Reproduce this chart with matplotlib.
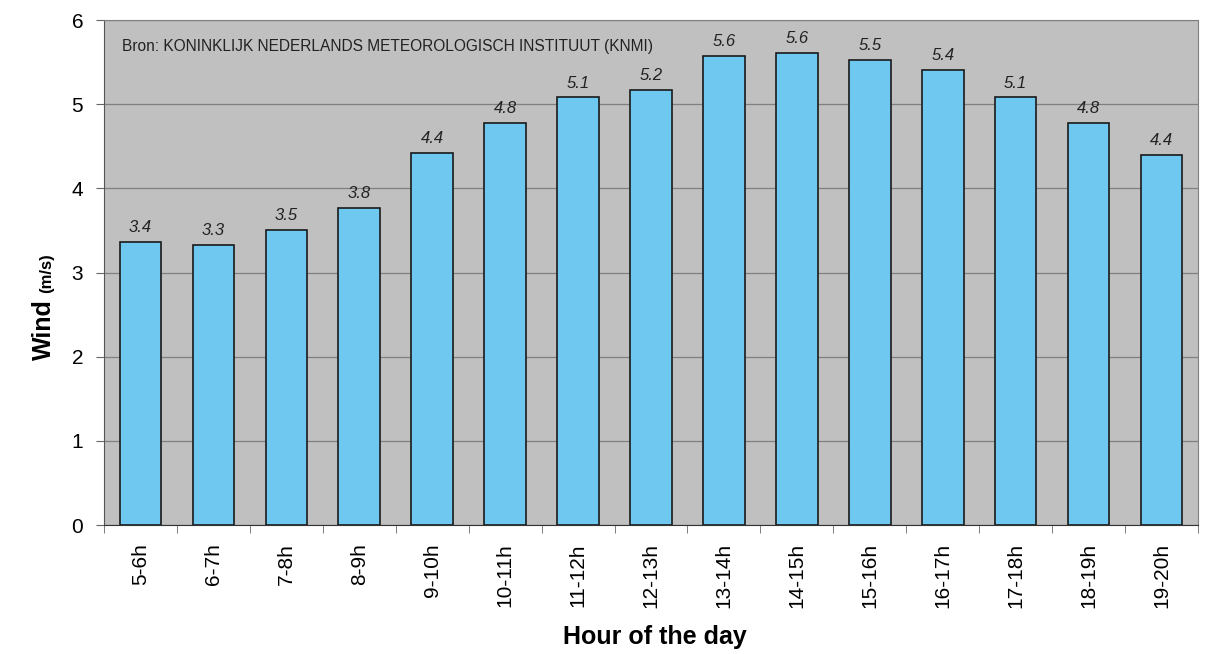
import numpy as np
import matplotlib
matplotlib.use('Agg')
import matplotlib.pyplot as plt
from matplotlib.ticker import FixedLocator

# data
hours = ['5-6h', '6-7h', '7-8h', '8-9h', '9-10h', '10-11h', '11-12h', '12-13h',
         '13-14h', '14-15h', '15-16h', '16-17h', '17-18h', '18-19h', '19-20h']
wind = [3.36, 3.33, 3.51, 3.77, 4.42, 4.78, 5.08, 5.17,
        5.57, 5.61, 5.52, 5.41, 5.08, 4.78, 4.40]
yticks = [0, 1, 2, 3, 4, 5, 6]
source = 'Bron: KONINKLIJK NEDERLANDS METEOROLOGISCH INSTITUUT (KNMI)'

plt.rcParams['font.family'] = ['Liberation Sans', 'DejaVu Sans']


def main():
	fig = plt.figure(figsize=(12.08, 6.54), dpi=100)
	ax = fig.add_axes([0.0861, 0.1972, 0.9056, 0.7722])
	ax.set_facecolor('#c0c0c0')

	x = np.arange(len(hours))
	bars = ax.bar(x, wind, width=0.57, color='#6fc8ef', edgecolor='#1a1a1a',
	              linewidth=1.2, zorder=3)

	for rect, v in zip(bars, wind):
		ax.annotate(f'{v:.1f}', (rect.get_x() + rect.get_width() / 2, v),
		            xytext=(0, 5), textcoords='offset points', ha='center',
		            va='bottom', fontsize=12, style='italic', color='#222222')

	ax.set_xlim(-0.5, len(hours) - 0.5)
	ax.set_ylim(0, 6)
	ax.set_yticks(yticks)
	ax.yaxis.grid(True, color='#808080', linewidth=0.9, zorder=1)
	ax.set_axisbelow(True)

	ax.set_xticks(x)
	ax.set_xticklabels(hours, rotation=90, fontsize=15)
	ax.xaxis.set_minor_locator(FixedLocator(np.arange(-0.5, len(hours), 1.0)))
	ax.tick_params(axis='x', which='major', length=0, pad=13)
	ax.tick_params(axis='x', which='minor', length=6, color='#666666')
	ax.tick_params(axis='y', length=6, color='#666666', labelsize=15, pad=9)

	for side in ['top', 'right']:
		ax.spines[side].set_color('#808080')
	ax.spines['left'].set_color('#555555')
	ax.spines['bottom'].set_color('#333333')

	ax.text(0.016, 0.947, source, transform=ax.transAxes, fontsize=11.2,
	        color='#222222', va='center', ha='left')

	fig.text(655 / 1208, 1 - 637 / 654, 'Hour of the day', fontsize=18,
	         fontweight='bold', ha='center', va='center')
	fig.text(51 / 1208, 1 - 360 / 654, 'Wind', fontsize=18, fontweight='bold',
	         rotation=90, rotation_mode='anchor', ha='left', va='baseline')
	fig.text(51 / 1208, 1 - 293 / 654, '(m/s)', fontsize=12, fontweight='bold',
	         rotation=90, rotation_mode='anchor', ha='left', va='baseline')

	fig.savefig('out.png', dpi=100)


if __name__ == '__main__':
	main()
